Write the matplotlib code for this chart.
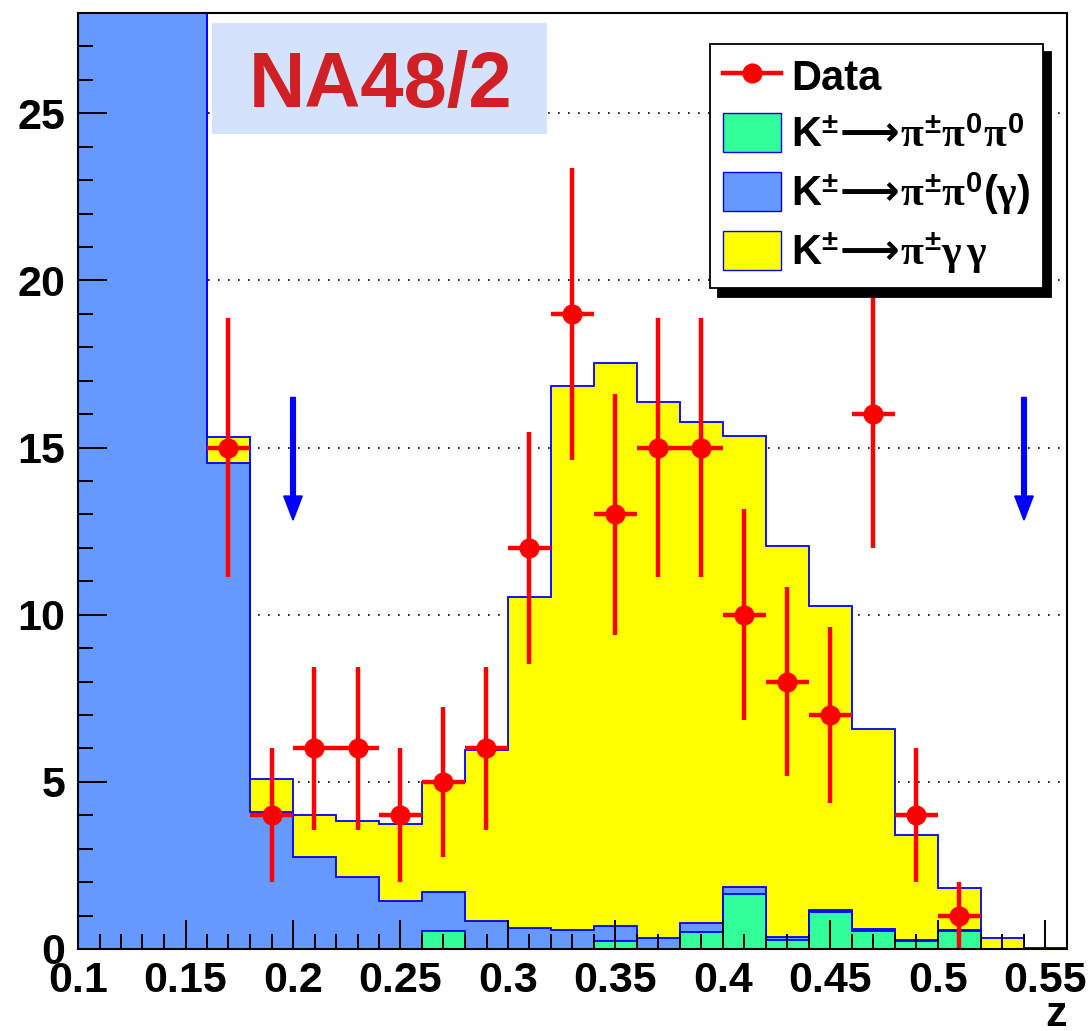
import numpy as np
import matplotlib
matplotlib.use("Agg")
import matplotlib.pyplot as plt
from matplotlib.lines import Line2D
from matplotlib.patches import Patch, Rectangle, FancyArrow
from matplotlib.ticker import MultipleLocator, FormatStrFormatter

plt.rcParams['font.family'] = ['Liberation Sans', 'DejaVu Sans']
plt.rcParams['font.weight'] = 'bold'
plt.rcParams['mathtext.fontset'] = 'custom'
plt.rcParams['mathtext.rm'] = 'Liberation Sans:bold'
plt.rcParams['mathtext.bf'] = 'Liberation Sans:bold'
plt.rcParams['mathtext.it'] = 'Liberation Serif'
plt.rcParams['mathtext.sf'] = 'DejaVu Sans'

# bin edges 0.10 .. 0.56, width 0.02
edges = np.linspace(0.10, 0.56, 24)

# K -> pi pi0 pi0 (green)
pi3 = [0, 0, 0, 0, 0, 0, 0, 0, 0.55, 0, 0, 0, 0.25, 0, 0.52, 1.66,
       0.28, 1.12, 0.55, 0.25, 0.53, 0, 0]
# K -> pi pi0 (gamma) (blue)
pi2g = [95, 140, 110, 14.55, 4.10, 2.75, 2.15, 1.44, 1.15, 0.85, 0.64, 0.58,
        0.43, 0.32, 0.26, 0.20, 0.07, 0.06, 0.05, 0.03, 0.04, 0, 0.03]
# K -> pi gamma gamma (yellow)
pigg = [0, 0, 0, 0.78, 1.00, 1.26, 1.69, 2.31, 3.30, 5.10, 9.89, 16.27,
        16.84, 16.05, 14.98, 13.50, 11.72, 9.08, 5.99, 3.13, 1.25, 0.33, 0]

# data
data_x = [0.17, 0.19, 0.21, 0.23, 0.25, 0.27, 0.29, 0.31, 0.33, 0.35,
          0.37, 0.39, 0.41, 0.43, 0.45, 0.47, 0.49, 0.51]
data_y = [15, 4, 6, 6, 4, 5, 6, 12, 19, 13, 15, 15, 10, 8, 7, 16, 4, 1]

arrow_x = [0.20, 0.54]

c_green = '#33ff99'
c_blue = '#6699ff'
c_yellow = '#ffff00'

fig = plt.figure(figsize=(10.92, 10.31), dpi=100)
ax = fig.add_axes([78/1092, 1-949/1031, (1067-78)/1092, (949-13)/1031])

# dotted grid, drawn under the histograms
for yg in [5, 10, 15, 20, 25]:
    ax.axhline(yg, color='black', linestyle=(0, (1, 5)), lw=1.2, zorder=0.5)

lvl1 = np.array(pi3)
lvl2 = lvl1 + np.array(pi2g)
lvl3 = lvl2 + np.array(pigg)

for lvl, col in [(lvl3, c_yellow), (lvl2, c_blue), (lvl1, c_green)]:
    ax.stairs(lvl, edges, fill=True, color=col, zorder=1)
    ax.stairs(lvl, edges, baseline=0, color='#0000ff', lw=1.3, zorder=1.5)

err = np.sqrt(data_y)
ax.errorbar(data_x, data_y, yerr=err, xerr=0.01, fmt='o', color='#ff0000',
            ms=13.5, elinewidth=3.2, capsize=0, zorder=5)

for xa in arrow_x:
    ax.add_patch(FancyArrow(xa, 16.5, 0, 12.83-16.5, width=0.0022,
                            head_width=0.0086, head_length=0.72,
                            length_includes_head=True, color='#0000ff',
                            zorder=6))

ax.set_xlim(0.1, 0.56)
ax.set_ylim(0, 28)
ax.set_axisbelow(False)

ax.xaxis.set_major_locator(MultipleLocator(0.05))
ax.xaxis.set_minor_locator(MultipleLocator(0.01))
ax.xaxis.set_major_formatter(FormatStrFormatter('%g'))
ax.yaxis.set_major_locator(MultipleLocator(5))
ax.yaxis.set_minor_locator(MultipleLocator(1))
ax.tick_params(which='both', direction='in', top=False, right=False,
               labelsize=31, width=1.4)
ax.tick_params(which='major', length=21)
ax.tick_params(which='minor', length=10.5)
ax.tick_params(axis='x', pad=9)
ax.tick_params(axis='y', pad=9)
for lab in ax.get_xticklabels() + ax.get_yticklabels():
    lab.set_fontweight('bold')
for s in ax.spines.values():
    s.set_linewidth(1.5)
    s.set_zorder(10)

ax.set_xlabel('z', loc='right', fontsize=31, fontweight='bold', labelpad=-5)

handles = [
    Line2D([], [], color='#ff0000', lw=3.2, marker='o', ms=13.5),
    Patch(facecolor=c_green, edgecolor='#0000ff', lw=1),
    Patch(facecolor=c_blue, edgecolor='#0000ff', lw=1),
    Patch(facecolor=c_yellow, edgecolor='#0000ff', lw=1),
]
arr = r'\!\mathsf{\longrightarrow}\!'
labels = ['Data',
          r'K$^{\pm}' + arr + r'\pi^{\pm}\pi^{0}\pi^{0}$',
          r'K$^{\pm}' + arr + r'\pi^{\pm}\pi^{0}(\gamma)$',
          r'K$^{\pm}' + arr + r'\pi^{\pm}\gamma\,\gamma$']
leg = ax.legend(handles, labels, loc='upper left',
                bbox_to_anchor=(710/1092, 1-44/1031), bbox_transform=fig.transFigure,
                prop={'size': 30, 'weight': 'bold'}, fancybox=False,
                edgecolor='black', framealpha=1, borderaxespad=0,
                handlelength=1.4, handleheight=1.05, labelspacing=0.34,
                borderpad=0.3, handletextpad=0.25,
                shadow={'ox': 6, 'oy': -6, 'color': 'black', 'alpha': 1})
leg.get_frame().set_linewidth(1.3)
leg.set_zorder(20)

fig.patches.append(Rectangle((212/1092, 1-134/1031), (547-212)/1092, (134-23)/1031,
                             transform=fig.transFigure, facecolor='#d4e2fb',
                             edgecolor='none', zorder=15))
fig.text(381/1092, 1-86/1031, 'NA48/2', color='#d11f26', fontsize=56,
         fontweight='bold', ha='center', va='center', zorder=16)

fig.savefig('out.png', dpi=100)
